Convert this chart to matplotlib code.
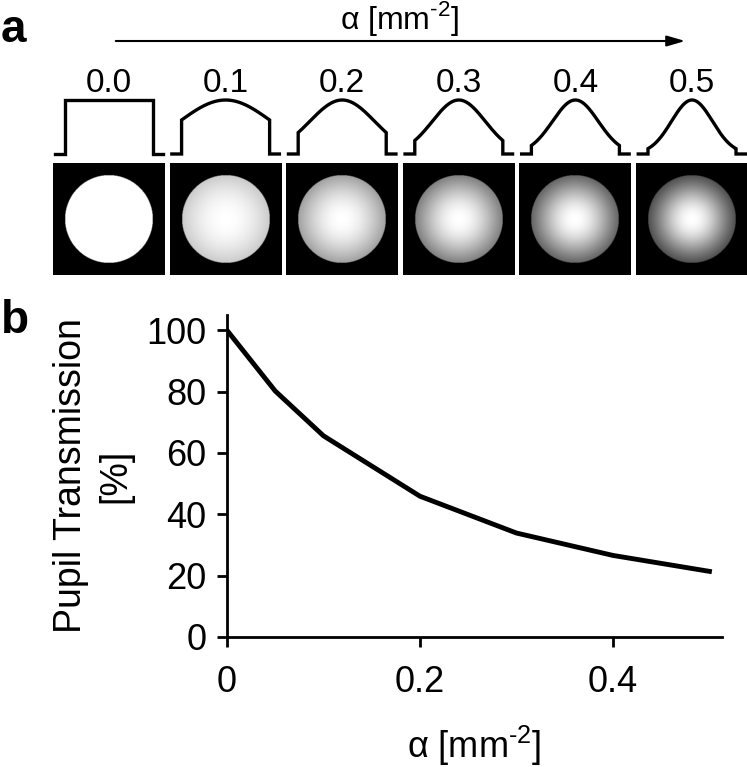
import numpy as np
import matplotlib.pyplot as plt
from matplotlib.patches import FancyArrowPatch

plt.rcParams['font.family'] = ['Liberation Sans', 'DejaVu Sans']
plt.rcParams['mathtext.fontset'] = 'custom'
plt.rcParams['mathtext.rm'] = 'Liberation Sans'

# panel a: apodisation strength of each pupil
alphas = [0.0, 0.1, 0.2, 0.3, 0.4, 0.5]
alpha_labels = ['0.0', '0.1', '0.2', '0.3', '0.4', '0.5']
pupil_radius = 2.15  # mm

# panel b: pupil transmission vs alpha
alpha_curve = [0.0, 0.05, 0.1, 0.2, 0.3, 0.4, 0.5]
transmission = [100, 80.2, 65.6, 45.9, 33.9, 26.6, 21.4]
xticks = [0, 0.2, 0.4]
xtick_labels = ['0', '0.2', '0.4']
yticks = [0, 20, 40, 60, 80, 100]

alpha_unit = r'α [mm$^{\text{-2}}$]'

W, H = 747, 767
fig = plt.figure(figsize=(W / 100, H / 100), dpi=100)


def box(x0, y0, x1, y1):
    # pixel box, origin top-left -> figure fraction rect
    return [x0 / W, 1 - y1 / H, (x1 - x0) / W, (y1 - y0) / H]


def fx(x):
    return x / W


def fy(y):
    return 1 - y / H


# ---- panel a ----
half = pupil_radius / 0.786
g = np.linspace(-half, half, 301)
xx, yy = np.meshgrid(g, g)
rr2 = xx ** 2 + yy ** 2
r = np.linspace(-pupil_radius, pupil_radius, 200)

for i, (a, lab) in enumerate(zip(alphas, alpha_labels)):
    x0 = 53 + 116.6 * i
    ax = fig.add_axes(box(x0, 163, x0 + 112, 275))
    amp = np.where(rr2 <= pupil_radius ** 2, np.exp(-a * rr2), 0.0)
    ax.imshow(np.sqrt(amp), cmap='gray', vmin=0, vmax=1,
              extent=[-half, half, -half, half], interpolation='bilinear')
    ax.set_axis_off()

    pa = fig.add_axes(box(x0, 100, x0 + 112, 154))
    px = np.concatenate([[-half * 0.96, -pupil_radius], r, [pupil_radius, half * 0.96]])
    py = np.concatenate([[0, 0], np.exp(-a * r ** 2), [0, 0]])
    pa.plot(px, py, color='black', lw=2.4, clip_on=False, solid_joinstyle='miter')
    pa.set_xlim(-half, half)
    pa.set_ylim(0, 1)
    pa.set_axis_off()

    fig.text(fx(x0 + 56), fy(92), lab, ha='center', va='baseline', fontsize=24)

arrow = FancyArrowPatch((fx(113), fy(41)), (fx(688), fy(41)), transform=fig.transFigure,
                        arrowstyle='-|>,head_length=1.1,head_width=0.32',
                        mutation_scale=10, lw=1.5, color='black')
fig.add_artist(arrow)
fig.text(fx(400), fy(18), alpha_unit, ha='center', va='center', fontsize=23)

fig.text(fx(1), fy(42), 'a', fontsize=33, fontweight='bold', va='baseline')
fig.text(fx(1), fy(333), 'b', fontsize=33, fontweight='bold', va='baseline')

# ---- panel b ----
ax = fig.add_axes(box(227, 315, 722, 637))
ax.plot(alpha_curve, transmission, color='black', lw=3.5)
ax.set_xlim(0, 0.513)
ax.set_ylim(0, 105)
ax.spines['top'].set_visible(False)
ax.spines['right'].set_visible(False)
for s in ['left', 'bottom']:
    ax.spines[s].set_linewidth(2)
ax.set_xticks(xticks)
ax.set_xticklabels(xtick_labels)
ax.set_yticks(yticks)
ax.tick_params(direction='out', length=7, width=2, labelsize=26)
ax.tick_params(axis='y', pad=8)
ax.tick_params(axis='x', pad=13)
ax.set_ylabel('Pupil Transmission\n[%]', fontsize=27, linespacing=1.3, labelpad=9)
ax.set_xlabel(alpha_unit, fontsize=26, labelpad=17)

fig.savefig('out.png', dpi=100)
